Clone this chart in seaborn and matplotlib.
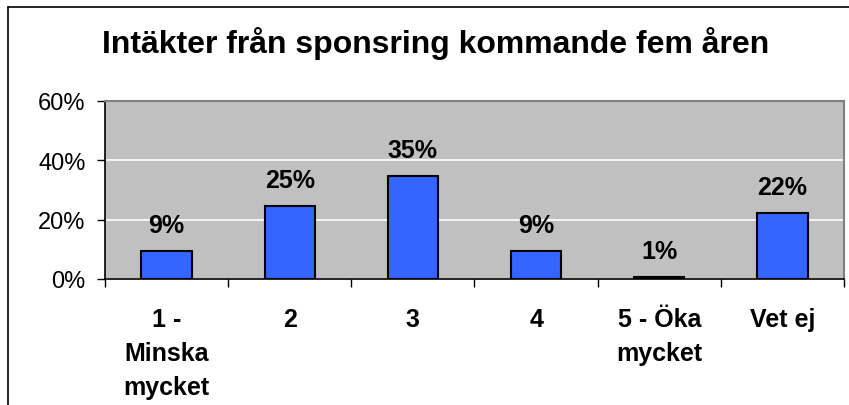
import matplotlib
matplotlib.use("Agg")
import matplotlib.pyplot as plt
from matplotlib.lines import Line2D
from matplotlib.ticker import FuncFormatter, FixedLocator
import seaborn as sns
import pandas as pd

# ---- data ----
categories = ["1 -\nMinska\nmycket", "2", "3", "4", "5 - Öka\nmycket", "Vet ej"]
values = [9.4, 24.6, 34.6, 9.4, 0.8, 22.4]
value_labels = ["9%", "25%", "35%", "9%", "1%", "22%"]
y_ticks = [0, 20, 40, 60]
title = "Intäkter från sponsring kommande fem åren"

sns.set_theme(style="white")
plt.rcParams["font.family"] = ["Liberation Sans", "DejaVu Sans"]

W, H = 849, 406
fig = plt.figure(figsize=(W / 100, H / 100), dpi=100)
fig.patch.set_facecolor("white")

ax = fig.add_axes([105 / W, 1 - 280 / H, 739 / W, 178 / H])
ax.set_facecolor("#C0C0C0")

df = pd.DataFrame({"cat": categories, "val": values})
sns.barplot(data=df, x="cat", y="val", color="#3366FF", width=0.41,
            edgecolor="black", linewidth=1.5, saturation=1, ax=ax, zorder=3)
for p in ax.patches:
    p.set_facecolor("#3366FF")

ax.set_ylim(0, 60)
ax.set_xlim(-0.5, len(categories) - 0.5)
ax.yaxis.set_major_locator(FixedLocator(y_ticks))
ax.yaxis.set_major_formatter(FuncFormatter(lambda v, _: f"{v:.0f}%"))
ax.grid(axis="y", color="white", linewidth=1.2, zorder=0)
ax.set_axisbelow(True)
ax.set_xlabel("")
ax.set_ylabel("")

ax.tick_params(axis="y", which="major", direction="out", length=6, width=1,
               color="black", labelsize=17, pad=8, left=True)
ax.tick_params(axis="x", which="major", length=0, pad=20, labelsize=18)
ax.set_xticks(range(len(categories)))
ax.set_xticklabels(categories, fontweight="bold", linespacing=1.52, va="top")
ax.xaxis.set_minor_locator(FixedLocator([i + 0.5 for i in range(-1, len(categories))]))
ax.tick_params(axis="x", which="minor", direction="out", length=6, width=1,
               color="black", bottom=True)
for lab in ax.get_yticklabels():
    lab.set_color("black")
for lab in ax.get_xticklabels():
    lab.set_color("black")

for s in ["left", "bottom"]:
    ax.spines[s].set_color("black")
    ax.spines[s].set_linewidth(1.2)
for s in ["top", "right"]:
    ax.spines[s].set_color("#808080")
    ax.spines[s].set_linewidth(1.5)
    ax.spines[s].set_visible(True)

for i, (v, lab) in enumerate(zip(values, value_labels)):
    ax.annotate(lab, xy=(i, v), xytext=(0, 10), textcoords="offset points",
                ha="center", va="bottom", fontsize=18, fontweight="bold",
                color="black", zorder=5)

fig.text(436 / W, 1 - 44 / H, title, ha="center", va="center",
         fontsize=23, fontweight="bold", color="black")

# outer chart border (left & top visible)
fig.add_artist(Line2D([8 / W, 8 / W], [0, 1 - 8 / H], color="black", linewidth=1.2,
                      transform=fig.transFigure))
fig.add_artist(Line2D([8 / W, 1], [1 - 8 / H, 1 - 8 / H], color="black", linewidth=1.2,
                      transform=fig.transFigure))

fig.savefig("out.png", dpi=100)
